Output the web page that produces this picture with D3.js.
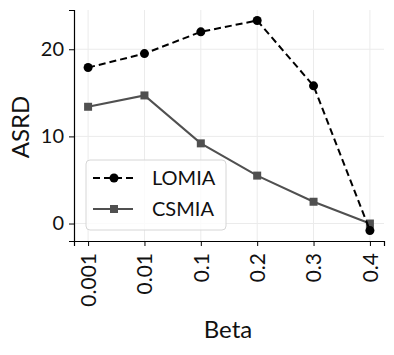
<!DOCTYPE html>
<html>
<head>
<meta charset="utf-8">
<script src="https://cdn.jsdelivr.net/npm/d3@7"></script>
<style>
  body { margin: 0; background: #fff; }
  text { font-family: Lato, "Noto Sans", sans-serif; fill: #111; }
</style>
</head>
<body>
<div id="chart"></div>
<script>
var betas = ["0.001", "0.01", "0.1", "0.2", "0.3", "0.4"];
var lomia = [17.9, 19.5, 22.0, 23.3, 15.8, -0.8];
var csmia = [13.4, 14.7, 9.2, 5.5, 2.5, 0.0];
var yTicks = [0, 10, 20];

var width = 394, height = 355;
var margin = {top: 10, right: 10, bottom: 114, left: 74};
var w = width - margin.left - margin.right,
    h = height - margin.top - margin.bottom;

var svg = d3.select("#chart").append("svg")
    .attr("width", width)
    .attr("height", height);

var g = svg.append("g")
    .attr("transform", "translate(" + margin.left + "," + margin.top + ")");

var x = d3.scalePoint()
    .domain(betas)
    .range([0, w])
    .padding(0.25);

var all = lomia.concat(csmia);
var lo = d3.min(all), hi = d3.max(all), pad = (hi - lo) * 0.05;
var y = d3.scaleLinear()
    .domain([lo - pad, hi + pad])
    .range([h, 0]);

// grid
g.append("g").selectAll("line").data(betas).join("line")
    .attr("x1", function(d) { return x(d); })
    .attr("x2", function(d) { return x(d); })
    .attr("y1", 0).attr("y2", h)
    .attr("stroke", "#ebebeb").attr("stroke-width", 1);
g.append("g").selectAll("line").data(yTicks).join("line")
    .attr("x1", 0).attr("x2", w)
    .attr("y1", function(d) { return y(d); })
    .attr("y2", function(d) { return y(d); })
    .attr("stroke", "#ebebeb").attr("stroke-width", 1);

// axes
var xAxis = g.append("g")
    .attr("transform", "translate(0," + h + ")")
    .call(d3.axisBottom(x).tickSizeOuter(0).tickSize(5).tickPadding(6));
xAxis.selectAll("text")
    .attr("transform", "rotate(-90)")
    .attr("x", -12).attr("y", 0).attr("dy", "0.35em")
    .style("text-anchor", "end")
    .style("font-size", "21px");

var yAxis = g.append("g")
    .call(d3.axisLeft(y).tickValues(yTicks).tickSizeOuter(0).tickSize(5).tickPadding(5));
yAxis.selectAll("text").style("font-size", "20px");

g.selectAll(".domain").attr("stroke", "#000").attr("stroke-width", 1.2);
g.selectAll(".tick line").attr("stroke", "#000").attr("stroke-width", 1);

// lines
var line = d3.line()
    .x(function(d, i) { return x(betas[i]); })
    .y(function(d) { return y(d); });

g.append("path").datum(csmia)
    .attr("fill", "none").attr("stroke", "#505050").attr("stroke-width", 2)
    .attr("d", line);
g.selectAll(".sq").data(csmia).join("rect")
    .attr("class", "sq")
    .attr("x", function(d, i) { return x(betas[i]) - 4; })
    .attr("y", function(d) { return y(d) - 4; })
    .attr("width", 8).attr("height", 8)
    .attr("fill", "#505050");

g.append("path").datum(lomia)
    .attr("fill", "none").attr("stroke", "#000").attr("stroke-width", 2)
    .attr("stroke-dasharray", "7,4")
    .attr("d", line);
g.selectAll(".dot").data(lomia).join("circle")
    .attr("class", "dot")
    .attr("cx", function(d, i) { return x(betas[i]); })
    .attr("cy", function(d) { return y(d); })
    .attr("r", 4.5)
    .attr("fill", "#000");

// axis labels
svg.append("text")
    .attr("transform", "translate(29,127) rotate(-90)")
    .style("text-anchor", "middle")
    .style("font-size", "24px")
    .text("ASRD");
svg.append("text")
    .attr("x", 228).attr("y", 338)
    .style("text-anchor", "middle")
    .style("font-size", "24px")
    .text("Beta");

// legend
var leg = g.append("g").attr("transform", "translate(12,150)");
leg.append("rect")
    .attr("width", 140).attr("height", 70)
    .attr("rx", 4)
    .attr("fill", "#fff").attr("fill-opacity", 0.8)
    .attr("stroke", "#d6d6d6");
var items = [
  {name: "LOMIA", color: "#000", dash: "7,4", shape: "circle"},
  {name: "CSMIA", color: "#505050", dash: null, shape: "square"}
];
items.forEach(function(it, i) {
  var cy = 18 + i * 31;
  leg.append("line")
      .attr("x1", 7).attr("x2", 47)
      .attr("y1", cy).attr("y2", cy)
      .attr("stroke", it.color).attr("stroke-width", 2)
      .attr("stroke-dasharray", it.dash);
  if (it.shape === "circle") {
    leg.append("circle").attr("cx", 28).attr("cy", cy).attr("r", 4.5).attr("fill", it.color);
  } else {
    leg.append("rect").attr("x", 24).attr("y", cy - 4).attr("width", 8).attr("height", 8).attr("fill", it.color);
  }
  leg.append("text")
      .attr("x", 66).attr("y", cy).attr("dy", "0.35em")
      .style("font-size", "20px")
      .text(it.name);
});
</script>
</body>
</html>
